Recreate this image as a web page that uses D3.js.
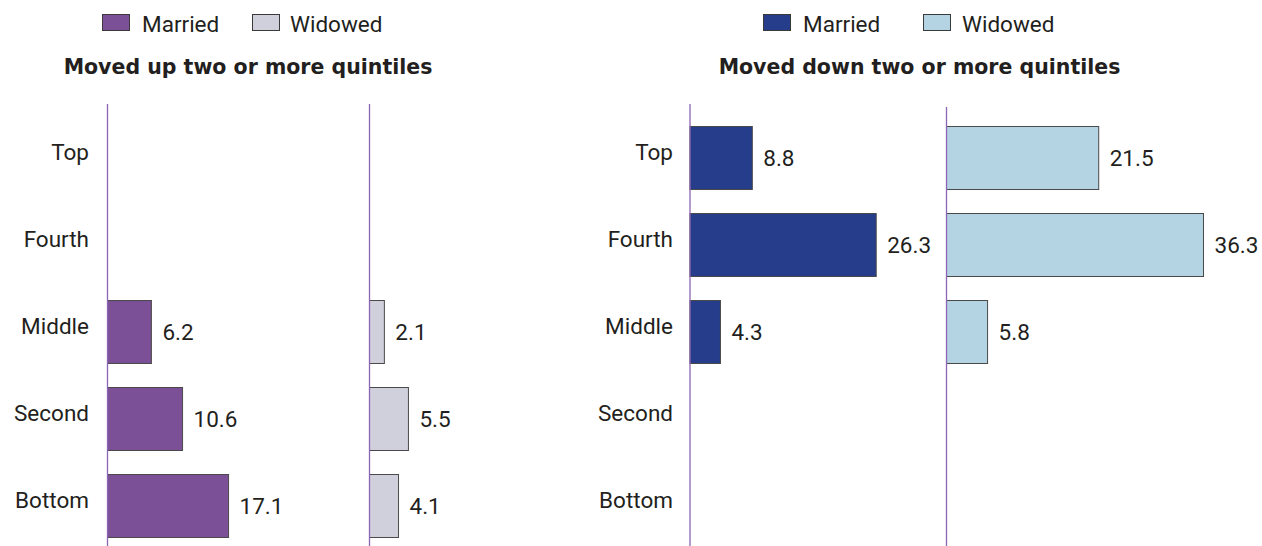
<!DOCTYPE html>
<html>
<head>
<meta charset="utf-8">
<script src="https://cdn.jsdelivr.net/npm/d3@7"></script>
<style>
  html, body { margin: 0; padding: 0; background: #fff; }
  svg { display: block; }
  text { font-family: Roboto, "Open Sans", sans-serif; fill: #231f20; }
</style>
</head>
<body>
<svg id="chart" width="1262" height="546"></svg>
<script>
// ---- Data ----
const categories = ["Top", "Fourth", "Middle", "Second", "Bottom"];
const seriesNames = ["Married", "Widowed"];
const panelTitles = ["Moved up two or more quintiles", "Moved down two or more quintiles"];
const upMarried   = [null, null, 6.2, 10.6, 17.1];
const upWidowed   = [null, null, 2.1, 5.5, 4.1];
const downMarried = [8.8, 26.3, 4.3, null, null];
const downWidowed = [21.5, 36.3, 5.8, null, null];

// ---- Layout / style ----
const W = 1262, H = 546;
const panels = [
  { title: panelTitles[0], titleX: 248, labelX: 89,
    legendX: [102, 252], textOff: [40, 38],
    colors: ["#7b5096", "#d0cfdc"],
    cols: [{ x0: 107.5, data: upMarried, c: 0, top: 104 }, { x0: 369.5, data: upWidowed, c: 1, top: 104 }] },
  { title: panelTitles[1], titleX: 919.5, labelX: 673,
    legendX: [763, 923], textOff: [40, 39],
    colors: ["#253d8a", "#b4d4e3"],
    cols: [{ x0: 690, data: downMarried, c: 0, top: 104 }, { x0: 946.5, data: downWidowed, c: 1, top: 107 }] }
];

const svg = d3.select("#chart");

const y = d3.scaleBand().domain(categories).range([114, 549])
  .paddingInner(0.276).paddingOuter(0.138);
const x = d3.scaleLinear().domain([0, 40]).range([0, 283.2]);

panels.forEach((p, pi) => {
  // legend
  seriesNames.forEach((s, i) => {
    const gx = p.legendX[i];
    svg.append("rect").attr("x", gx + 0.5).attr("y", 14.5).attr("width", 27).attr("height", 16)
      .attr("fill", p.colors[i]).attr("stroke", "#3a3a3a").attr("stroke-width", 1);
    svg.append("text").attr("x", gx + p.textOff[i]).attr("y", 32)
      .style("font-size", "22.5px").text(s);
  });

  // title
  svg.append("text").attr("x", p.titleX).attr("y", 74)
    .attr("text-anchor", "middle")
    .style("font-family", "'DejaVu Sans', sans-serif")
    .style("font-weight", "bold").style("font-size", "20.5px")
    .text(p.title);

  p.cols.forEach((col, ci) => {
    const g = svg.append("g").attr("transform", `translate(${col.x0},0)`);
    const rows = categories.map((c, i) => ({ c, v: col.data[i] })).filter(d => d.v != null);

    g.selectAll("rect.bar").data(rows).join("rect")
      .attr("class", "bar")
      .attr("x", 0)
      .attr("y", d => y(d.c) + 0.5)
      .attr("width", d => x(d.v))
      .attr("height", y.bandwidth())
      .attr("fill", p.colors[col.c])
      .attr("stroke", "#4a4a4a").attr("stroke-width", 1);

    g.selectAll("text.val").data(rows).join("text")
      .attr("class", "val")
      .attr("x", d => x(d.v) + 11)
      .attr("y", d => y(d.c) + y.bandwidth() / 2 + 8.5)
      .style("font-size", "22.5px")
      .text(d => d.v.toFixed(1));

    // vertical axis line
    g.append("line").attr("x1", 0).attr("x2", 0).attr("y1", col.top).attr("y2", H)
      .attr("stroke", "#8c66b4").attr("stroke-width", 1.3);

    if (ci === 0) {
      const ax = d3.axisLeft(y).tickSize(0).tickPadding(col.x0 - p.labelX);
      const axg = svg.append("g").attr("transform", `translate(${col.x0},0)`).call(ax);
      axg.select(".domain").remove();
      axg.selectAll("text")
        .attr("dy", "0.13em")
        .style("font-family", "Roboto, 'Open Sans', sans-serif")
        .style("font-size", "22.5px")
        .style("fill", "#231f20");
    }
  });
});
</script>
</body>
</html>
